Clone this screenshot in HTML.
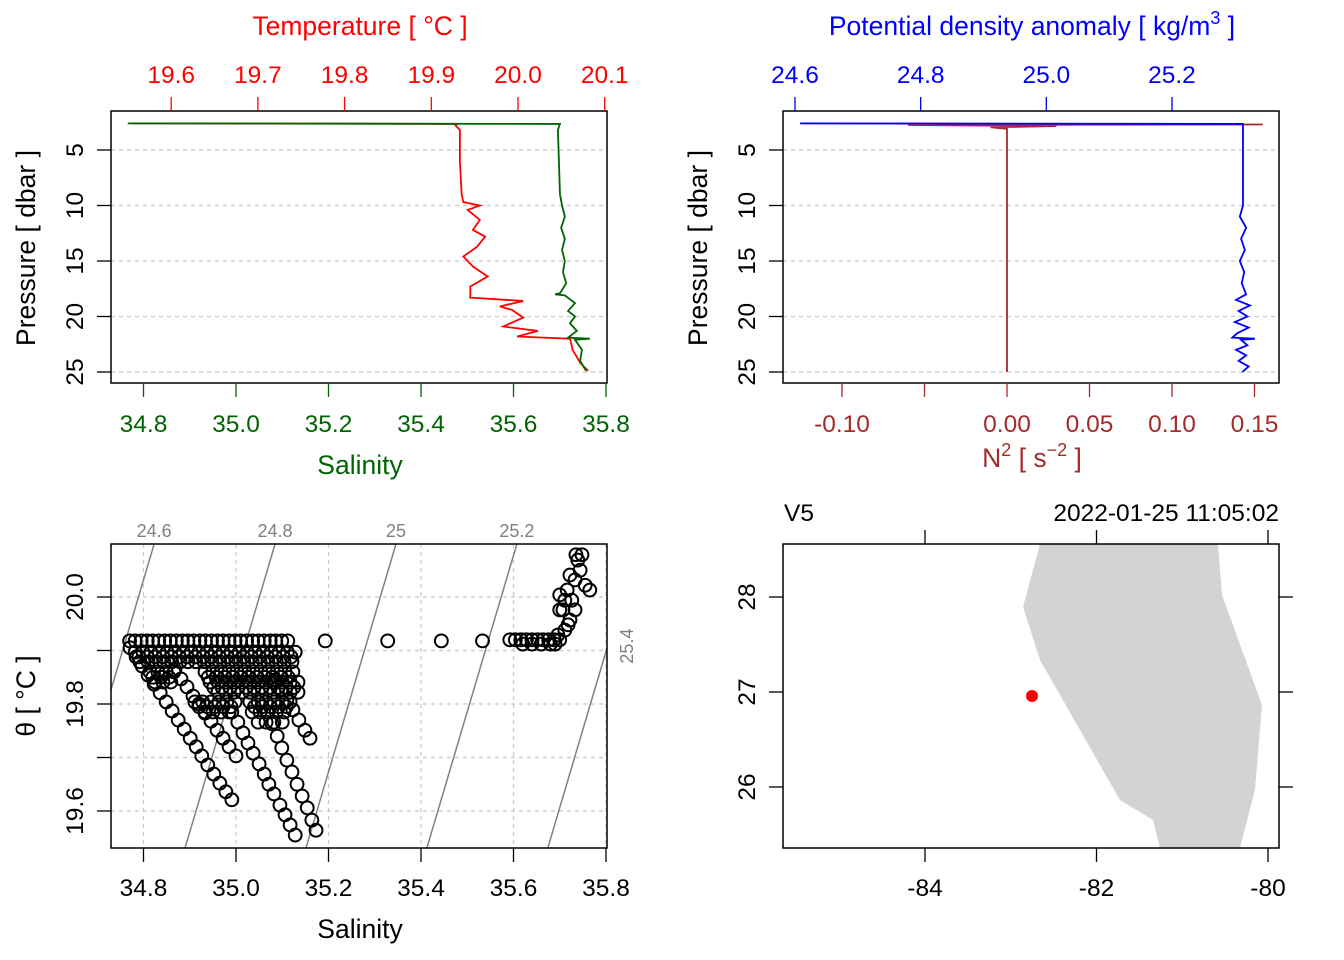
<!DOCTYPE html>
<html><head><meta charset="utf-8"><style>
html,body{margin:0;padding:0;background:#fff}
svg{display:block;font-family:"Liberation Sans",sans-serif}
</style></head><body>
<svg id="fig" width="1344" height="960" viewBox="0 0 1344 960" xmlns="http://www.w3.org/2000/svg">
<defs>
<clipPath id="c1"><rect x="111" y="111" width="496" height="272"/></clipPath>
<clipPath id="c2"><rect x="783" y="111" width="496" height="272"/></clipPath>
<clipPath id="c3"><rect x="111" y="544" width="496" height="304"/></clipPath>
<clipPath id="c4"><rect x="783" y="544" width="496" height="304"/></clipPath>
</defs>
</svg>
<script>
// ---------- data ----------
const tempP = [2.6,2.65,2.8,3.2,6,9,9.7,10,10.4,11.3,12.2,12.8,13.7,14.6,15.5,16.4,17.3,18.3,18.6,19.1,19.4,20.1,20.9,21.3,21.8,22.0,23.0,24.2,24.9];
const tempT = [19.553,19.93,19.928,19.933,19.933,19.935,19.937,19.956,19.942,19.956,19.948,19.962,19.953,19.937,19.948,19.965,19.945,19.945,20.006,19.979,19.993,20.006,19.983,20.023,19.999,20.060,20.063,20.072,20.081];
const salP = [2.6,2.65,3.2,9,10,11,12,13,14,15,16,17,17.9,18,18.1,18.8,19.5,20,20.6,21.3,21.9,22,22.1,23,24,24.9];
const salS = [34.766,35.7005,35.696,35.7005,35.705,35.711,35.703,35.711,35.705,35.711,35.707,35.714,35.7005,35.690,35.711,35.733,35.718,35.733,35.722,35.737,35.718,35.765,35.733,35.748,35.744,35.757];
const sigP = [2.6,2.65,3,10,11,12,13,14,15,16,17,18,18.5,19,19.5,20,20.5,21,21.5,21.9,22,22.1,22.6,23,23.5,24,24.5,25];
const sigV = [24.608,25.313,25.313,25.313,25.308,25.318,25.310,25.316,25.308,25.315,25.311,25.318,25.302,25.324,25.306,25.320,25.300,25.322,25.304,25.296,25.332,25.310,25.320,25.302,25.318,25.306,25.322,25.312];
const n2P = [2.6,2.7,2.75,2.85,2.95,3.1,5,10,15,20,25];
const n2V = [-0.124,0.155,-0.06,0.03,-0.01,0,0,0,0,0,0];
const tsSal = [
34.771,34.784,34.797,34.810,34.823,34.836,34.849,34.862,34.875,34.888,34.901,34.914,34.926,34.939,34.952,34.965,34.978,34.991,
34.868,34.881,34.894,34.907,34.920,34.933,34.946,34.959,34.972,34.985,35.000,
34.991,35.004,35.015,35.026,35.037,35.050,35.061,35.071,35.082,35.095,35.106,35.117,35.128,
35.056,35.067,35.078,35.089,35.099,35.110,35.121,35.132,35.143,35.154,35.164,35.173,
35.084,35.097,35.110,35.123,35.136,35.149,35.160,
34.770,34.782,34.795,34.808,34.820,34.833,34.846,34.858,34.871,34.884,34.896,34.909,34.922,34.934,34.947,34.960,34.972,34.985,34.998,35.010,35.023,35.036,35.048,35.061,35.074,35.086,35.099,35.112,
34.782,34.799,34.816,34.834,34.851,34.868,34.886,34.903,34.920,34.937,34.955,34.972,34.989,35.007,35.024,35.041,35.059,35.076,35.093,35.111,35.128,
34.792,34.810,34.827,34.844,34.861,34.879,34.896,34.913,34.931,34.948,34.965,34.983,35.000,35.017,35.035,35.052,35.069,35.087,35.104,35.121,
34.814,34.831,34.849,34.866,34.933,34.950,34.968,34.985,35.002,35.019,35.037,35.054,35.071,35.089,35.106,35.123,
34.825,34.842,34.859,34.944,34.961,34.978,34.996,35.013,35.030,35.048,35.065,35.082,35.100,35.117,35.134,
34.961,34.978,34.996,35.013,35.030,35.048,35.065,35.082,35.100,35.117,35.134,
34.911,34.928,34.946,34.963,34.980,34.998,35.030,35.048,35.065,35.082,35.100,35.117,
34.933,34.950,34.968,34.985,35.035,35.052,35.069,35.087,35.104,
35.048,35.065,35.082,35.100,
34.790,34.808,34.825,34.842,34.860,34.877,34.894,34.912,34.929,34.946,34.964,34.981,34.998,35.016,35.033,35.050,35.068,35.085,35.102,35.119,
34.820,34.838,34.855,34.940,34.957,34.975,34.992,35.009,35.026,35.044,35.061,35.078,35.096,35.113,
34.952,34.970,34.987,35.004,35.022,35.039,35.056,35.074,35.091,35.108,35.125,
34.920,34.937,34.955,34.972,34.989,35.040,35.057,35.074,35.092,35.109,
35.193,35.328,35.444,35.533,
35.592,35.604,35.616,35.628,35.640,35.652,35.664,35.676,35.688,35.700,35.620,35.640,35.660,35.680,35.690,
35.711,35.722,35.707,35.726,35.716,35.733,35.722,35.755,35.765,35.744,35.739,35.748,35.735,35.700,35.700,35.711,35.733,35.718,35.696];
const tsTheta = [
19.905,19.888,19.871,19.854,19.837,19.821,19.804,19.787,19.770,19.753,19.736,19.720,19.703,19.686,19.669,19.652,19.636,19.621,
19.864,19.847,19.832,19.815,19.800,19.783,19.768,19.751,19.736,19.720,19.703,
19.785,19.766,19.746,19.727,19.708,19.688,19.669,19.650,19.632,19.611,19.593,19.574,19.555,
19.807,19.785,19.763,19.740,19.718,19.695,19.673,19.650,19.628,19.606,19.583,19.564,
19.845,19.826,19.807,19.789,19.770,19.751,19.736,
19.918,19.918,19.918,19.918,19.918,19.918,19.918,19.918,19.918,19.918,19.918,19.918,19.918,19.918,19.918,19.918,19.918,19.918,19.918,19.918,19.918,19.918,19.918,19.918,19.918,19.918,19.918,19.918,
19.897,19.897,19.897,19.897,19.897,19.897,19.897,19.897,19.897,19.897,19.897,19.897,19.897,19.897,19.897,19.897,19.897,19.897,19.897,19.897,19.897,
19.879,19.879,19.879,19.879,19.879,19.879,19.879,19.879,19.879,19.879,19.879,19.879,19.879,19.879,19.879,19.879,19.879,19.879,19.879,19.879,
19.860,19.860,19.860,19.860,19.860,19.860,19.860,19.860,19.860,19.860,19.860,19.860,19.860,19.860,19.860,19.860,
19.841,19.841,19.841,19.841,19.841,19.841,19.841,19.841,19.841,19.841,19.841,19.841,19.841,19.841,19.841,
19.822,19.822,19.822,19.822,19.822,19.822,19.822,19.822,19.822,19.822,19.822,
19.804,19.804,19.804,19.804,19.804,19.804,19.804,19.804,19.804,19.804,19.804,19.804,
19.785,19.785,19.785,19.785,19.785,19.785,19.785,19.785,19.785,
19.766,19.766,19.766,19.766,
19.888,19.888,19.888,19.888,19.888,19.888,19.888,19.888,19.888,19.888,19.888,19.888,19.888,19.888,19.888,19.888,19.888,19.888,19.888,19.888,
19.850,19.850,19.850,19.850,19.850,19.850,19.850,19.850,19.850,19.850,19.850,19.850,19.850,19.850,
19.831,19.831,19.831,19.831,19.831,19.831,19.831,19.831,19.831,19.831,19.831,
19.795,19.795,19.795,19.795,19.795,19.795,19.795,19.795,19.795,19.795,
19.918,19.918,19.918,19.918,
19.920,19.920,19.920,19.920,19.920,19.920,19.920,19.920,19.920,19.920,19.912,19.912,19.912,19.912,19.912,
19.938,19.957,19.976,19.994,20.013,20.032,20.041,20.022,20.013,20.050,20.069,20.079,20.079,19.976,20.004,19.994,19.976,19.948,19.929];
const isoSigma = [24.6,24.8,25.0,25.2,25.4];
const isoLabels = ["24.6","24.8","25","25.2","25.4"];
const coastLon = [-82.659,-80.583,-80.536,-80.070,-80.152,-80.327,-81.260,-81.342,-81.727,-82.659,-82.857];
const coastLat = [28.558,28.558,28.021,26.863,25.968,25.358,25.358,25.653,25.863,27.337,27.895];
const stationLon = [-82.752];
const stationLat = [26.958];
const salTicks = [34.8,35.0,35.2,35.4,35.6,35.8];
const tempTicks = [19.6,19.7,19.8,19.9,20.0,20.1];
const presTicks = [5,10,15,20,25];
const sigTicks = [24.6,24.8,25.0,25.2];
const n2Ticks = [-0.10,-0.05,0.00,0.05,0.10,0.15];
const n2Labels = ["-0.10","","0.00","0.05","0.10","0.15"];
const thetaTicks = [19.6,19.7,19.8,19.9,20.0];
const lonTicks = [-84,-82,-80];
const latTicks = [26,27,28];

// ---------- scales ----------
const xS = s => 236 + (s-35)*462.5;
const xT = t => 518 + (t-20)*867;
const yP = p => 150 + (p-5)*11.1;
const xSig = v => 795 + (v-24.6)*628.3;
const xN2 = v => 1007 + v*1650;
const yTh = t => 597 - (t-20)*535;
const xLon = l => 925 + (l+84)*85.75;
const yLat = l => 597 - (l-28)*95;

const TICK = 24.5, TITLE = 26.5;
const svg = document.getElementById('fig');
const NS = 'http://www.w3.org/2000/svg';
function mk(tag, attrs, parent){
  const e = document.createElementNS(NS, tag);
  for (const k in attrs) e.setAttribute(k, attrs[k]);
  (parent||svg).appendChild(e); return e;
}
function txt(str, x, y, size, color, anchor, rot){
  const t = mk('text', {x:x, y:y, 'font-size':size, fill:color, 'text-anchor':anchor||'middle'});
  if (rot) t.setAttribute('transform', 'rotate('+rot+' '+x+' '+y+')');
  t.textContent = str; return t;
}
function group(name, clip){
  const g = mk('g', clip?{'clip-path':'url(#'+clip+')'}:{});
  
  
  return g;
}

// ================= Panel 1 =================
let g = group('grid-p1');
presTicks.forEach(p=>{ mk('line',{x1:111,x2:607,y1:yP(p),y2:yP(p),stroke:'#c8c8c8','stroke-dasharray':'4 4','stroke-width':1.2},g); });
g = group('temperature-profile','c1');
mk('polyline',{points:tempP.map((p,i)=>xT(tempT[i])+','+yP(p)).join(' '),fill:'none',stroke:'#ff0000','stroke-width':1.8},g);
g = group('salinity-profile','c1');
mk('polyline',{points:salP.map((p,i)=>xS(salS[i])+','+yP(p)).join(' '),fill:'none',stroke:'#006400','stroke-width':1.8},g);
g = group('plot-box-p1');
mk('rect',{x:111,y:111,width:496,height:272,fill:'none',stroke:'#000','stroke-width':1.5},g);
g = group('temperature-axis');
tempTicks.forEach(t=>{ mk('line',{x1:xT(t),x2:xT(t),y1:111,y2:97,stroke:'#ff0000','stroke-width':1.3},g); txt(t.toFixed(1),xT(t),83,TICK,'#ff0000'); });
txt('Temperature [ °C ]',360,35,TITLE,'#ff0000');

g = group('salinity-axis');
salTicks.forEach(s=>{ mk('line',{x1:xS(s),x2:xS(s),y1:383,y2:397,stroke:'#006400','stroke-width':1.3},g); txt(s.toFixed(1),xS(s),432,TICK,'#006400'); });
txt('Salinity',360,474,TITLE,'#006400');

function presAxis(x0,name){
  const gg = group(name);
  presTicks.forEach(p=>{ mk('line',{x1:x0,x2:x0-14,y1:yP(p),y2:yP(p),stroke:'#000','stroke-width':1.3},gg); txt(String(p),x0-28,yP(p),TICK,'#000','middle',-90); });
}
presAxis(111,'pressure-axis-p1');
txt('Pressure [ dbar ]',35,248,TITLE,'#000','middle',-90);


// ================= Panel 2 =================
g = group('grid-p2');
presTicks.forEach(p=>{ mk('line',{x1:783,x2:1279,y1:yP(p),y2:yP(p),stroke:'#c8c8c8','stroke-dasharray':'4 4','stroke-width':1.2},g); });
g = group('n2-profile','c2');
mk('polyline',{points:n2P.map((p,i)=>xN2(n2V[i])+','+yP(p)).join(' '),fill:'none',stroke:'#a52a2a','stroke-width':1.8},g);
g = group('density-profile','c2');
mk('polyline',{points:sigP.map((p,i)=>xSig(sigV[i])+','+yP(p)).join(' '),fill:'none',stroke:'#0000ff','stroke-width':1.8},g);
g = group('plot-box-p2');
mk('rect',{x:783,y:111,width:496,height:272,fill:'none',stroke:'#000','stroke-width':1.5},g);
g = group('density-axis');
sigTicks.forEach(v=>{ mk('line',{x1:xSig(v),x2:xSig(v),y1:111,y2:97,stroke:'#0000ff','stroke-width':1.3},g); txt(v.toFixed(1),xSig(v),83,TICK,'#0000ff'); });
const dt = txt('',1032,35,TITLE,'#0000ff');
dt.innerHTML = 'Potential density anomaly [ kg/m<tspan dy="-11" font-size="18">3</tspan><tspan dy="11"> ]</tspan>';

g = group('n2-axis');
n2Ticks.forEach((v,i)=>{ mk('line',{x1:xN2(v),x2:xN2(v),y1:383,y2:397,stroke:'#a52a2a','stroke-width':1.3},g); if(n2Labels[i]) txt(n2Labels[i],xN2(v),432,TICK,'#a52a2a'); });
const nt = txt('',1032,467,TITLE,'#a52a2a');
nt.innerHTML = 'N<tspan dy="-11" font-size="18">2</tspan><tspan dy="11"> [ s</tspan><tspan dy="-11" font-size="18">−2</tspan><tspan dy="11"> ]</tspan>';

presAxis(783,'pressure-axis-p2');
txt('Pressure [ dbar ]',707,248,TITLE,'#000','middle',-90);


// ================= Panel 3 (TS) =================
g = group('grid-ts');
salTicks.forEach(s=>{ mk('line',{x1:xS(s),x2:xS(s),y1:544,y2:848,stroke:'#c8c8c8','stroke-dasharray':'4 4','stroke-width':1.2},g); });
thetaTicks.forEach(t=>{ mk('line',{x1:111,x2:607,y1:yTh(t),y2:yTh(t),stroke:'#c8c8c8','stroke-dasharray':'4 4','stroke-width':1.2},g); });
const thTop = 20.099, thBot = 19.531;
const isoS = (sig,th) => 34.823 + (sig-24.6)/0.765 + 0.3425*(th-thTop);
g = group('isopycnals','c3');
isoSigma.forEach(sig=>{
  mk('line',{x1:xS(isoS(sig,thTop)),y1:yTh(thTop),x2:xS(isoS(sig,thBot)),y2:yTh(thBot),stroke:'#808080','stroke-width':1.5},g);
});
isoSigma.forEach((sig,i)=>{
  const xt = xS(isoS(sig,thTop));
  if (xt < 600) txt(isoLabels[i], xt, 537, 18, '#808080');
  else { const th = thTop - (xt-607)/462.5/0.3425; txt(isoLabels[i], 633, yTh(th)-2, 18, '#808080','middle',-90); }
});
g = group('ts-points','c3');
tsSal.forEach((s,i)=>{
  const c = mk('circle',{cx:xS(s),cy:yTh(tsTheta[i]),r:6.4,fill:'none',stroke:'#000','stroke-width':2},g);
  
  
});
g = group('plot-box-ts');
mk('rect',{x:111,y:544,width:496,height:304,fill:'none',stroke:'#000','stroke-width':1.5},g);
g = group('salinity-axis-ts');
salTicks.forEach(s=>{ mk('line',{x1:xS(s),x2:xS(s),y1:848,y2:862,stroke:'#000','stroke-width':1.3},g); txt(s.toFixed(1),xS(s),896,TICK,'#000'); });
txt('Salinity',360,938,TITLE,'#000');

g = group('theta-axis');
thetaTicks.forEach(t=>{ mk('line',{x1:111,x2:97,y1:yTh(t),y2:yTh(t),stroke:'#000','stroke-width':1.3},g); });
[19.6,19.8,20.0].forEach(t=>txt(t.toFixed(1),83,yTh(t),TICK,'#000','middle',-90));
txt('θ [ °C ]',35,696,TITLE,'#000','middle',-90);


// ================= Panel 4 (map) =================
g = group('coastline','c4');
mk('polygon',{points:coastLon.map((l,i)=>xLon(l)+','+yLat(coastLat[i])).join(' '),fill:'#d3d3d3',stroke:'none'},g);
g = group('station-marker','c4');
stationLon.forEach((l,i)=>mk('circle',{cx:xLon(l),cy:yLat(stationLat[i]),r:6,fill:'#ff0000'},g));
g = group('plot-box-map');
mk('rect',{x:783,y:544,width:496,height:304,fill:'none',stroke:'#000','stroke-width':1.5},g);
g = group('lon-axis');
lonTicks.forEach(l=>{ mk('line',{x1:xLon(l),x2:xLon(l),y1:848,y2:862,stroke:'#000','stroke-width':1.3},g); mk('line',{x1:xLon(l),x2:xLon(l),y1:544,y2:530,stroke:'#000','stroke-width':1.3},g); txt(String(l),xLon(l),896,TICK,'#000'); });
g = group('lat-axis');
latTicks.forEach(l=>{ mk('line',{x1:783,x2:769,y1:yLat(l),y2:yLat(l),stroke:'#000','stroke-width':1.3},g); mk('line',{x1:1279,x2:1293,y1:yLat(l),y2:yLat(l),stroke:'#000','stroke-width':1.3},g); txt(String(l),755,yLat(l),TICK,'#000','middle',-90); });
txt('V5',784,521,TICK,'#000','start');

txt('2022-01-25 11:05:02',1279,521,TICK,'#000','end');

</script>
</body></html>
